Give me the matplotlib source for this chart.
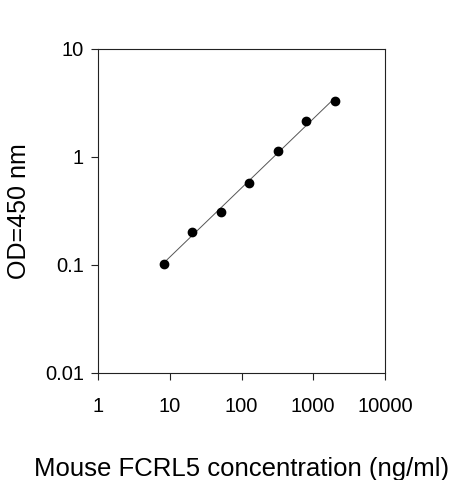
import numpy as np
import matplotlib
matplotlib.use('AGG')
from matplotlib import pyplot as plt

plt.rcParams['font.family'] = ['Liberation Sans', 'DejaVu Sans']

# standard curve, 2.5-fold dilutions
conc = [8.192, 20.48, 51.2, 128, 320, 800, 2000]
od = [0.102, 0.202, 0.312, 0.578, 1.14, 2.15, 3.28]
xticks = [1, 10, 100, 1000, 10000]
yticks = [0.01, 0.1, 1, 10]
xticklabels = ['1', '10', '100', '1000', '10000']
yticklabels = ['0.01', '0.1', '1', '10']


def main(outfile):
    fig = plt.figure(figsize=(4.63, 4.8), dpi=100)
    ax = fig.add_axes([98 / 463, 1 - 373 / 480, 287 / 463, 324 / 480])

    # log-log fit line over the data range
    lx, ly = np.log10(conc), np.log10(od)
    k, b = np.polyfit(lx, ly, 1)
    fx = np.array([lx[0], lx[-1]])
    ax.plot(10 ** fx, 10 ** (k * fx + b), '-', color='#555555', lw=0.7, zorder=2)
    ax.plot(conc, od, 'o', color='black', ms=6, zorder=3)

    ax.set_xscale('log')
    ax.set_yscale('log')
    ax.set_xlim(1, 10000)
    ax.set_ylim(0.01, 10)
    ax.minorticks_off()
    ax.set_xticks(xticks)
    ax.set_xticklabels(xticklabels)
    ax.set_yticks(yticks)
    ax.set_yticklabels(yticklabels)
    ax.tick_params(direction='out', length=5, width=0.8, labelsize=14.5,
                   color='#222222')
    ax.tick_params(axis='x', pad=12)
    ax.tick_params(axis='y', pad=5)
    for s in ax.spines.values():
        s.set_linewidth(0.8)
        s.set_color('#222222')

    ax.set_xlabel('Mouse FCRL5 concentration (ng/ml)', fontsize=18.5, labelpad=30)
    ax.set_ylabel('OD=450 nm', fontsize=18, labelpad=10)

    fig.savefig(outfile, dpi=100)


if __name__ == '__main__':
    main('out.png')
